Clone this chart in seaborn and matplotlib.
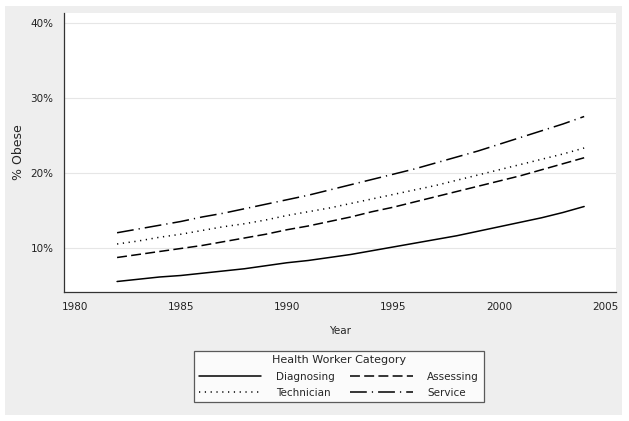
import pandas as pd
import matplotlib.pyplot as plt
import seaborn as sns
from matplotlib.patches import Rectangle

# data (percent obese by year)
years = list(range(1982, 2005))
diagnosing = [5.5, 5.8, 6.1, 6.3, 6.6, 6.9, 7.2, 7.6, 8.0, 8.3, 8.7, 9.1,
              9.6, 10.1, 10.6, 11.1, 11.6, 12.2, 12.8, 13.4, 14.0, 14.7, 15.5]
assessing = [8.7, 9.1, 9.5, 9.9, 10.3, 10.8, 11.3, 11.8, 12.4, 12.9, 13.5, 14.1,
             14.8, 15.4, 16.1, 16.8, 17.5, 18.2, 18.9, 19.6, 20.4, 21.2, 22.0]
technician = [10.5, 10.9, 11.4, 11.8, 12.3, 12.8, 13.2, 13.7, 14.3, 14.8, 15.3, 15.9,
              16.5, 17.1, 17.7, 18.3, 19.0, 19.7, 20.4, 21.1, 21.8, 22.5, 23.3]
service = [12.0, 12.5, 13.0, 13.5, 14.1, 14.6, 15.2, 15.8, 16.4, 17.0, 17.7, 18.4,
           19.1, 19.8, 20.5, 21.3, 22.1, 22.9, 23.8, 24.7, 25.6, 26.5, 27.5]

categories = ['Diagnosing', 'Assessing', 'Technician', 'Service']
series = [diagnosing, assessing, technician, service]

df = pd.concat([
    pd.DataFrame({'Year': years, 'Obese': vals, 'Category': cat})
    for cat, vals in zip(categories, series)
])

sns.set_style('white')
plt.rcParams['font.family'] = ['DejaVu Sans']

fig = plt.figure(figsize=(6.29, 4.21), dpi=100, facecolor='white')
# grey panel behind everything
fig.patches.append(Rectangle((5 / 629, 6 / 421), 617 / 629, 409 / 421,
                             transform=fig.transFigure, facecolor='#eeeeee',
                             edgecolor='none', zorder=-10))
ax = fig.add_axes([64 / 629, 1 - 292 / 421, 552 / 629, 279 / 421])
ax.set_facecolor('white')

dashes = {'Diagnosing': '', 'Assessing': (6.5, 2.8),
          'Technician': (0.8, 3), 'Service': (11, 3.3, 0.8, 3.3)}
sns.lineplot(data=df, x='Year', y='Obese', hue='Category', style='Category',
             palette={c: 'black' for c in categories}, dashes=dashes,
             linewidth=1.1, ax=ax, legend=False)

ax.set_xlim(1979.5, 2005.5)
ax.set_ylim(4.1, 41.3)
ax.set_xticks([1980, 1985, 1990, 1995, 2000, 2005])
ax.set_yticks([10, 20, 30, 40])
ax.set_yticklabels(['10%', '20%', '30%', '40%'])
ax.grid(axis='y', color='#e6e6e6', linewidth=0.8)
ax.set_axisbelow(True)
for s in ['top', 'right']:
    ax.spines[s].set_visible(False)
for s in ['left', 'bottom']:
    ax.spines[s].set_color('#333333')
    ax.spines[s].set_linewidth(0.9)
ax.tick_params(axis='both', direction='out', length=4, width=0.8,
               color='#333333', labelsize=7.5, labelcolor='#222222')
ax.tick_params(axis='x', pad=3)
ax.set_xlabel('Year', fontsize=7.5, labelpad=10)
ax.set_ylabel('% Obese', fontsize=9, labelpad=4)

# legend: Diagnosing / Technician in column 1, Assessing / Service in column 2
lines = ax.get_lines()
order = [0, 2, 1, 3]
leg = fig.legend([lines[i] for i in order], [categories[i] for i in order],
                 title='Health Worker Category', ncol=2,
                 loc='center', bbox_to_anchor=(339 / 629, 1 - 376.5 / 421),
                 fontsize=7.5, title_fontsize=8, frameon=True, fancybox=False,
                 handlelength=6.0, columnspacing=1.5, handletextpad=1.4,
                 borderpad=0.45, labelspacing=0.6)
leg.get_frame().set_edgecolor('#333333')
leg.get_frame().set_linewidth(0.9)
leg.get_frame().set_facecolor('white')

fig.savefig('out.png', dpi=100, facecolor='white')
